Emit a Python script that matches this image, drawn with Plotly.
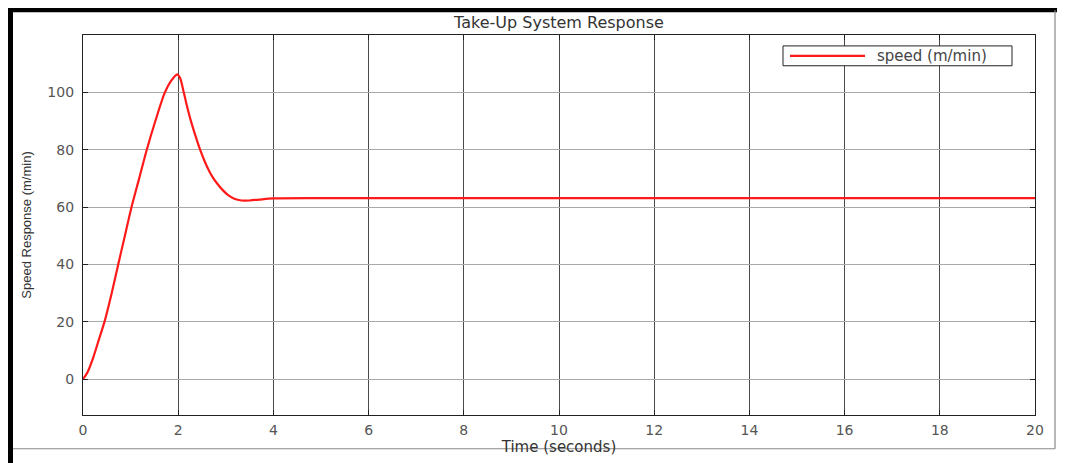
import plotly.graph_objects as go

# ---- data ----
time_s = [0, 0.1, 0.22, 0.33, 0.46, 0.6, 0.74, 0.88, 1.02, 1.18, 1.34, 1.52,
          1.72, 1.85, 1.98, 2.04, 2.11, 2.18, 2.25, 2.35, 2.46, 2.56, 2.65,
          2.73, 2.81, 2.93, 3.05, 3.18, 3.33, 3.5, 3.7, 4.0, 5, 6, 8, 10,
          12, 14, 16, 18, 20]
speed = [0, 2.6, 7.8, 13.6, 20.5, 29.8, 40, 50, 60, 70, 80, 90,
         100, 104, 106.3, 105, 100.5, 95.5, 91, 85.5, 80, 75.8, 72.6,
         70.3, 68.4, 66, 64.2, 62.9, 62.3, 62.3, 62.6, 63.0, 63.1, 63.1, 63.1, 63.1,
         63.1, 63.1, 63.1, 63.1, 63.1]
series_name = "speed (m/min)"
title_text = "Take-Up System Response"
x_title = "Time (seconds)"
y_title = "Speed Response (m/min)"
x_ticks = [0, 2, 4, 6, 8, 10, 12, 14, 16, 18, 20]
y_ticks = [0, 20, 40, 60, 80, 100]

# page has an 8px body margin: figure coordinates = screen coordinates - 8
OFF = 8
W, H = 1065 - OFF, 463 - OFF
L, R, T, B = 83 - OFF, 30, 35 - OFF, 45
pw, ph = W - L - R, H - T - B


def px(x):  # screen x -> paper x
    return (x - OFF - L) / pw


def py(y):  # screen y -> paper y
    return (H - B - (y - OFF)) / ph


fig = go.Figure()
fig.add_trace(go.Scatter(
    x=time_s, y=speed, mode="lines", name=series_name, showlegend=False,
    line=dict(color="#ff1a1a", width=2.2, shape="spline", smoothing=0.8),
))

axis_common = dict(
    showline=True, linecolor="#222", linewidth=1.2, mirror="ticks",
    ticks="inside", ticklen=5, tickcolor="#222",
    tickfont=dict(family="DejaVu Sans", size=14, color="#555"),
    zeroline=False,
)

fig.update_xaxes(
    range=[0, 20], tickvals=x_ticks, showgrid=True, gridcolor="#4a4a4a", gridwidth=1,
    title=dict(text=x_title, font=dict(family="DejaVu Sans", size=15, color="#333"), standoff=3),
    ticklabelstandoff=2,
    **axis_common,
)
fig.update_yaxes(
    range=[-12.5, 120], tickvals=y_ticks, showgrid=True, gridcolor="#aaa", gridwidth=1,
    title=dict(text=y_title, font=dict(family="Liberation Sans Narrow, Liberation Sans", size=13, color="#333"),
               standoff=12),
    ticklabelstandoff=5,
    **axis_common,
)

shapes = [
    # outer frame (thick top/left, thin right/bottom)
    dict(type="line", xref="paper", yref="paper", x0=px(10.5), x1=px(10.5), y0=py(4), y1=py(470),
         line=dict(color="black", width=5)),
    dict(type="line", xref="paper", yref="paper", x0=px(8), x1=px(1070), y0=py(8), y1=py(8),
         line=dict(color="black", width=8)),
    dict(type="line", xref="paper", yref="paper", x0=px(1055), x1=px(1055), y0=py(10), y1=py(452),
         line=dict(color="#888", width=1.2)),
    dict(type="line", xref="paper", yref="paper", x0=px(13), x1=px(1055), y0=py(452), y1=py(452),
         line=dict(color="#888", width=1.2)),
    # legend box and sample line
    dict(type="rect", xref="paper", yref="paper", x0=px(783), x1=px(1012), y0=py(46), y1=py(66),
         line=dict(color="#222", width=1), fillcolor="white", layer="above"),
    dict(type="line", xref="paper", yref="paper", x0=px(790), x1=px(865), y0=py(56), y1=py(56),
         line=dict(color="#ff1a1a", width=2.2), layer="above"),
]

annotations = [
    dict(text=series_name, xref="paper", yref="paper", x=px(875), y=py(56),
         xanchor="left", yanchor="middle", showarrow=False,
         font=dict(family="DejaVu Sans", size=15, color="#444")),
]

fig.update_layout(
    width=W, height=H,
    margin=dict(l=L, r=R, t=T, b=B),
    paper_bgcolor="white", plot_bgcolor="white",
    title=dict(text=title_text, x=0.5, xref="paper", y=1 - (22 - OFF) / H, yref="container",
               yanchor="middle", xanchor="center",
               font=dict(family="DejaVu Sans", size=16, color="#333")),
    showlegend=False,
    shapes=shapes,
    annotations=annotations,
)

fig.write_html("out.html")
